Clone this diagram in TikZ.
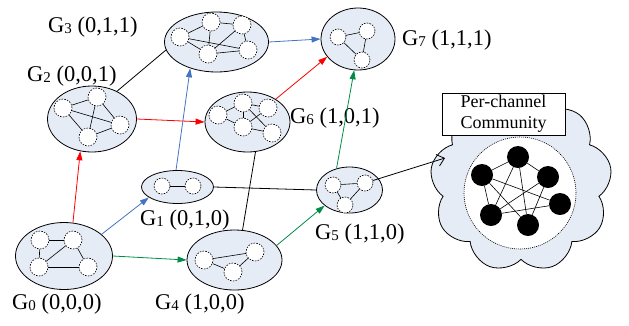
\documentclass[tikz,border=0pt]{standalone}
\usepackage{fontspec}
\setmainfont{Liberation Serif}
\usetikzlibrary{shapes.geometric,shapes.symbols,arrows.meta}
\definecolor{efill}{RGB}{230,236,246}
\definecolor{ared}{RGB}{255,0,0}
\definecolor{ablue}{RGB}{68,114,196}
\definecolor{agreen}{RGB}{0,140,70}
\newcommand{\gsub}[1]{{\fontsize{15}{15}\selectfont\raisebox{-1.5pt}{#1}}}
\begin{document}
\begin{tikzpicture}[x=1pt,y=-1pt,
  grp/.style={ellipse, draw, fill=efill, line width=0.8pt, inner sep=0},
  dn/.style={circle, draw, fill=white, minimum size=18pt, inner sep=0, line width=0.6pt, dash pattern=on 1.6pt off 1.2pt},
  sdn/.style={dn, minimum size=16pt},
  bn/.style={circle, fill=black, minimum size=22pt, inner sep=0},
  lbl/.style={anchor=west, font=\fontsize{22.5}{26}\selectfont, inner sep=0},
  arr/.style={line width=0.8pt, -{Triangle[length=9pt,width=6pt]}},
  ln/.style={line width=0.8pt},
  ie/.style={line width=0.6pt}]
\useasboundingbox (0,0) rectangle (629,325);

% cloud
\node[cloud, draw, fill=efill, line width=0.8pt, cloud puffs=9, cloud puff arc=130, aspect=1, minimum width=182pt, minimum height=178pt, inner sep=0] (cloud) at (521,183) {};
\node[circle, draw, fill=white, line width=0.6pt, dash pattern=on 1pt off 1pt, minimum size=112pt, inner sep=0] (comm) at (520,193) {};
\node[draw, fill=white, line width=0.6pt, minimum width=123pt, minimum height=42pt, inner sep=0, align=center, font=\fontsize{18}{21}\selectfont] (pc) at (503.5,114) {Per-channel\\Community};
\node[bn] (b1) at (518,157) {};
\node[bn] (b2) at (482,175) {};
\node[bn] (b3) at (548,177) {};
\node[bn] (b4) at (560,204) {};
\node[bn] (b5) at (491,215) {};
\node[bn] (b6) at (528,225) {};
\foreach \a/\b in {b1/b2,b1/b3,b1/b5,b1/b6,b2/b4,b2/b5,b2/b6,b3/b5,b3/b6,b5/b4}
  \draw[ie] (\a) -- (\b);

% group ellipses
\node[grp, minimum width=97pt, minimum height=67pt] (g0) at (64,256) {};
\node[grp, minimum width=72pt, minimum height=33pt] (g1) at (177.5,187) {};
\node[grp, minimum width=89pt, minimum height=66pt] (g2) at (92,119) {};
\node[grp, minimum width=104pt, minimum height=60pt] (g3) at (216.5,42) {};
\node[grp, minimum width=95pt, minimum height=60pt] (g4) at (234.5,260) {};
\node[grp, minimum width=66pt, minimum height=46pt] (g5) at (349.5,190) {};
\node[grp, minimum width=85pt, minimum height=60pt] (g6) at (247.5,122) {};
\node[grp, minimum width=74pt, minimum height=62pt] (g7) at (358,39) {};

% G0 members
\node[dn] (a1) at (40,240) {};
\node[dn] (a2) at (73,240) {};
\node[dn] (a3) at (39,267) {};
\node[dn] (a4) at (88,267) {};
\foreach \a/\b in {a1/a2,a1/a3,a2/a3,a2/a4,a3/a4} \draw[ie] (\a) -- (\b);
% G1 members
\node[sdn] (c1) at (162,186) {};
\node[sdn] (c2) at (193,186) {};
\draw[ie] (c1) -- (c2);
% G2 members
\node[dn] (p1) at (63,108) {};
\node[dn] (p2) at (97,97) {};
\node[dn] (p3) at (120,125) {};
\node[dn] (p4) at (88,137) {};
\foreach \a/\b in {p1/p2,p2/p3,p1/p3,p2/p4,p1/p4,p4/p3} \draw[ie] (\a) -- (\b);
% G3 members
\node[dn] (n1) at (180,37) {};
\node[dn] (n2) at (211,22) {};
\node[dn] (n3) at (242,25) {};
\node[dn] (n4) at (248,50) {};
\node[dn] (n5) at (208,54) {};
\foreach \a/\b in {n1/n2,n2/n3,n1/n4,n1/n5,n2/n5,n3/n5,n3/n4,n5/n4} \draw[ie] (\a) -- (\b);
% G4 members
\node[dn] (r1) at (204,260) {};
\node[dn] (r2) at (255,252) {};
\node[dn] (r3) at (233,272) {};
\foreach \a/\b in {r1/r2,r1/r3,r3/r2} \draw[ie] (\a) -- (\b);
% G5 members
\node[sdn] (s1) at (333,185) {};
\node[sdn] (s2) at (365,183) {};
\node[sdn] (s3) at (345,205) {};
\foreach \a/\b in {s1/s2,s1/s3,s2/s3} \draw[ie] (\a) -- (\b);
% G6 members
\node[dn] (q1) at (218,115) {};
\node[dn] (q2) at (243,103) {};
\node[dn] (q3) at (268,108) {};
\node[dn] (q4) at (243,127) {};
\node[dn] (q5) at (272,133) {};
\foreach \a/\b in {q1/q2,q1/q4,q2/q4,q2/q5,q3/q4,q2/q3,q4/q5} \draw[ie] (\a) -- (\b);
% G7 members
\node[sdn] (t1) at (338,37) {};
\node[sdn] (t2) at (367,31) {};
\node[sdn] (t3) at (362,60) {};
\foreach \a/\b in {t1/t2,t1/t3,t2/t3} \draw[ie] (\a) -- (\b);

% labels
\node[lbl] (l0) at (12,304) {G\gsub{0} (0,0,0)};
\node[lbl] (l1) at (140,220) {G\gsub{1} (0,1,0)};
\node[lbl] (l2) at (27,76) {G\gsub{2} (0,0,1)};
\node[lbl] (l3) at (48,27) {G\gsub{3} (0,1,1)};
\node[lbl] (l4) at (155,304) {G\gsub{4} (1,0,0)};
\node[lbl] (l5) at (315,234) {G\gsub{5} (1,1,0)};
\node[lbl] (l6) at (290,118) {G\gsub{6} (1,0,1)};
\node[lbl] (l7) at (402,40) {G\gsub{7} (1,1,1)};

% connectors
\draw[arr, ared] (g0.75) -- (g2.250);
\draw[arr, ablue] (g0.30) -- (g1.200);
\draw[arr, agreen] (g0.0) -- (g4.180);
\draw[arr, ablue] (g1.95) -- (g3.225);
\draw[ln] (g2.48) -- (g3.189);
\draw[arr, ablue] (g3.0) -- (g7.180);
\draw[arr, ared] (g2.0) -- (g6.180);
\draw[arr, ared] (g6.39) -- (g7.210);
\draw[arr, agreen] (g4.19) -- (g5.212);
\draw[arr, agreen] (g5.121) -- (g7.263);
\draw[ln] (g6.285) -- (g4.75);
\draw[ln] (g1.0) -- (g5.180);
\coordinate (ctip) at (445,158);
\draw[ln, -{Straight Barb[length=7pt,width=12pt]}] (s2) -- (ctip);
\end{tikzpicture}
\end{document}
